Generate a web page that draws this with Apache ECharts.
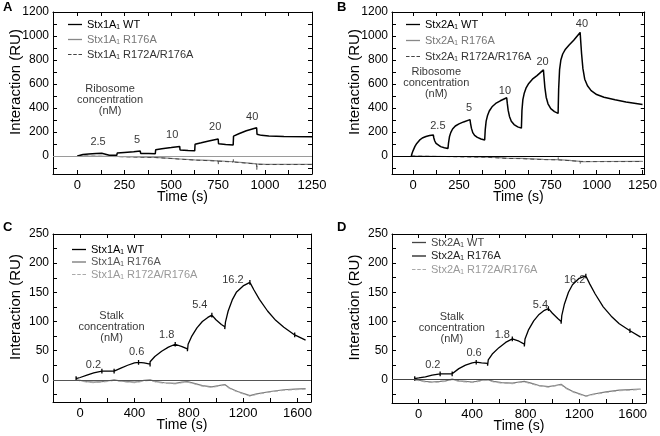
<!DOCTYPE html>
<html>
<head>
<meta charset="utf-8">
<script src="https://cdn.jsdelivr.net/npm/echarts@6/dist/echarts.min.js"></script>
<style>
html, body { margin: 0; background: #fff; }
#chart { width: 660px; height: 436px; }
</style>
</head>
<body>
<div id="chart"></div>
<script>
// ---- data: [time (s), response (RU)] ----
const wtA = [[0,0],[2,10],[30,13],[60,16],[100,20],[130,23],[132,8],[170,7],[210,6],[212,25],[250,30],[300,36],[335,41],[337,21],[380,20],[415,19],[417,52],[450,60],[500,70],[545,80],[547,50],[590,46],[625,43],[627,98],[660,110],[700,125],[750,142],[752,102],[790,96],[830,92],[832,166],[860,185],[900,210],[955,236],[957,182],[980,172],[1020,166],[1100,162],[1250,160]];
const r176A = [[0,0],[130,-2],[210,-4],[300,-7],[415,-12],[480,-18],[545,-25],[625,-33],[700,-37],[750,-40],[830,-48],[900,-58],[955,-66],[1000,-70],[1250,-70]];
const r172A = [[0,0],[130,-3],[210,-5],[300,-8],[415,-13],[480,-19],[545,-26],[546,-40],[547,-27],[625,-34],[750,-42],[751,-70],[752,-43],[830,-50],[831,-30],[832,-50],[955,-67],[956,-115],[957,-69],[1000,-71],[1250,-71]];

const wtB = [[-10,0],[-5,25],[0,45],[10,80],[20,105],[35,132],[50,150],[70,162],[90,170],[110,175],[113,150],[118,125],[125,105],[135,90],[150,78],[170,69],[190,63],[193,110],[198,160],[205,195],[215,225],[230,250],[250,268],[275,284],[310,303],[313,270],[318,230],[325,195],[335,172],[350,155],[370,142],[390,134],[393,220],[398,290],[405,335],[415,375],[430,410],[450,438],[475,460],[510,485],[513,440],[518,380],[525,330],[535,290],[550,262],[570,243],[590,232],[593,380],[598,470],[605,520],[615,565],[630,605],[650,640],[675,670],[710,718],[713,660],[718,570],[725,490],[735,435],[750,395],[770,370],[790,355],[793,560],[798,720],[805,800],[815,850],[830,890],[850,925],[875,965],[910,1030],[913,960],[918,850],[925,730],[935,640],[950,585],[970,545],[1000,512],[1040,490],[1100,468],[1160,450],[1250,430]];
const r176B = [[-10,0],[100,-2],[190,-4],[300,-6],[390,-9],[450,-12],[510,-17],[511,-28],[512,-17],[590,-20],[650,-24],[710,-28],[711,-40],[712,-28],[790,-30],[791,-10],[792,-30],[850,-36],[910,-44],[911,-65],[912,-46],[950,-48],[1000,-46],[1250,-44]];
const r172B = [[-10,0],[100,-3],[190,-5],[300,-8],[390,-10],[510,-20],[590,-22],[710,-30],[790,-32],[910,-45],[1000,-47],[1250,-46]];

const wtC = [[-30,2],[-30,6],[-30,-2],[-30,2],[0,4],[50,8],[100,12],[160,15],[160,19],[160,11],[160,15],[200,15],[250,15],[250,19],[250,11],[250,15],[300,20],[350,25],[400,29],[430,30],[430,34],[430,26],[430,30],[470,29],[515,27],[515,23],[515,31],[550,40],[600,49],[650,56],[700,61],[700,65],[700,57],[700,61],[750,57],[790,53],[790,49],[795,61],[820,74],[860,89],[900,100],[940,107],[970,111],[970,115],[970,107],[970,111],[1000,103],[1040,95],[1065,91],[1065,87],[1070,99],[1090,118],[1120,137],[1150,150],[1200,161],[1250,167],[1250,171],[1250,163],[1250,167],[1280,154],[1320,138],[1380,118],[1440,102],[1500,90],[1580,77],[1580,81],[1580,73],[1580,77],[1660,68]];
const r176C = [[-30,0],[0,-1],[50,-3],[100,-4],[160,-3],[200,-2],[250,0],[300,-2],[350,-3],[400,-4],[430,-3],[470,-1],[515,0],[560,-3],[620,-5],[700,-6],[750,-4],[790,-3],[840,-6],[900,-10],[970,-12],[1020,-10],[1065,-8],[1100,-14],[1160,-20],[1250,-27],[1300,-24],[1400,-20],[1500,-17],[1580,-16],[1660,-15]];
const r172C = [[-30,0],[0,-2],[50,-4],[100,-5],[160,-4],[200,-3],[250,-1],[300,-3],[350,-4],[400,-5],[430,-4],[470,-2],[515,-1],[560,-4],[620,-6],[700,-7],[750,-5],[790,-4],[840,-7],[900,-11],[970,-13],[1020,-11],[1065,-9],[1100,-15],[1160,-21],[1250,-28],[1300,-25],[1400,-21],[1500,-18],[1580,-17],[1660,-16]];

const wtD = [[-30,2],[-30,6],[-30,-2],[-30,2],[0,3],[50,5],[100,8],[160,10],[160,14],[160,6],[160,10],[200,10],[250,10],[250,14],[250,6],[250,10],[300,19],[350,25],[400,29],[430,30],[430,34],[430,26],[430,30],[470,29],[515,28],[515,24],[520,34],[550,44],[600,55],[650,64],[700,70],[700,74],[700,66],[700,70],[750,66],[790,61],[790,57],[795,70],[820,85],[860,101],[900,112],[940,119],[970,122],[970,126],[970,118],[970,122],[1000,114],[1040,105],[1065,100],[1065,96],[1070,110],[1090,130],[1120,150],[1150,163],[1200,174],[1250,178],[1250,182],[1250,174],[1250,178],[1280,164],[1320,147],[1380,125],[1440,109],[1500,96],[1580,84],[1580,88],[1580,80],[1580,84],[1660,73]];
const r176D = [[-30,0],[0,-1],[50,-3],[100,-4],[160,-3],[200,-2],[250,1],[300,-2],[350,-3],[400,-4],[430,-3],[470,-1],[515,0],[560,-3],[620,-5],[700,-6],[750,-4],[790,-3],[840,-6],[900,-10],[970,-12],[1020,-10],[1065,-8],[1100,-14],[1160,-21],[1250,-28],[1300,-25],[1400,-21],[1500,-18],[1580,-17],[1660,-16]];
const r172D = [[-30,0],[0,-2],[50,-4],[100,-5],[160,-4],[200,-3],[250,0],[300,-3],[350,-4],[400,-5],[430,-4],[470,-2],[515,-1],[560,-4],[620,-6],[700,-7],[750,-5],[790,-4],[840,-7],[900,-11],[970,-13],[1020,-11],[1065,-9],[1100,-15],[1160,-22],[1250,-29],[1300,-26],[1400,-22],[1500,-19],[1580,-18],[1660,-17]];

// concentration labels, anchored in data units
const concA = ['2.5', '5', '10', '20', '40'];
const concPosA = [[110,114],[318,130],[505,172],[734,238],[931,329]];
const concB = ['2.5', '5', '10', '20', '40'];
const concPosB = [[135,250],[305,404],[500,545],[705,780],[920,1100]];
const concC = ['0.2', '0.6', '1.8', '5.4', '16.2'];
const concPosC = [[98,26],[416,47],[637,77],[881,129],[1125,172]];
const concD = ['0.2', '0.6', '1.8', '5.4', '16.2'];
const concPosD = [[105,25],[414,46],[625,77],[910,128],[1166,171]];
const noteRibo = 'Ribosome\nconcentration\n(nM)';
const noteStalk = 'Stalk\nconcentration\n(nM)';
const notePos = [[174,470],[126,612],[231,90],[248,89]];

// tick labels
const xLabRibo = [0, 250, 500, 750, 1000, 1250];
const xTickRibo = [0, 125, 250, 375, 500, 625, 750, 875, 1000, 1125, 1250];
const yLabRibo = [0, 200, 400, 600, 800, 1000, 1200];
const yTickRibo = [-100, 0, 100, 200, 300, 400, 500, 600, 700, 800, 900, 1000, 1100, 1200];
const xLabStalk = [0, 400, 800, 1200, 1600];
const xTickStalk = [-200, 0, 200, 400, 600, 800, 1000, 1200, 1400, 1600];
const yLabStalk = [0, 50, 100, 150, 200, 250];
const yTickStalk = [-25, 0, 25, 50, 75, 100, 125, 150, 175, 200, 225, 250];

const names1 = ['Stx1A\u2081 WT', 'Stx1A\u2081 R176A', 'Stx1A\u2081 R172A/R176A'];
const names2 = ['Stx2A\u2081 WT', 'Stx2A\u2081 R176A', 'Stx2A\u2081 R172A/R176A'];

let chart = echarts.init(document.getElementById('chart'));

const grids = [
  { left: 53, top: 12, width: 259, height: 162 },
  { left: 392, top: 12, width: 259, height: 162 },
  { left: 53, top: 234, width: 258, height: 168 },
  { left: 392, top: 234, width: 254, height: 169 }
];

const ranges = [
  { x: [-130, 1250], y: [-150, 1200], xl: xLabRibo, xt: xTickRibo, yl: yLabRibo, yt: yTickRibo },
  { x: [-115, 1262], y: [-150, 1200], xl: xLabRibo, xt: xTickRibo, yl: yLabRibo, yt: yTickRibo },
  { x: [-200, 1700], y: [-38, 250], xl: xLabStalk, xt: xTickStalk, yl: yLabStalk, yt: yTickStalk },
  { x: [-200, 1700], y: [-40, 250], xl: xLabStalk, xt: xTickStalk, yl: yLabStalk, yt: yTickStalk }
];

const plain = function (v) { return String(v); };

let xAxis = [], yAxis = [];
ranges.forEach(function (r, i) {
  const line = { show: true, onZero: false, lineStyle: { color: '#000', width: 1 } };
  xAxis.push({
    type: 'value', gridIndex: i, min: r.x[0], max: r.x[1], position: 'bottom',
    name: 'Time (s)', nameLocation: 'middle', nameGap: 16, nameMoveOverlap: false,
    nameTextStyle: { fontSize: 14, color: '#000' },
    axisLine: line, splitLine: { show: false },
    axisTick: { inside: true, length: 4, customValues: r.xt, lineStyle: { color: '#000' } },
    axisLabel: { customValues: r.xl, formatter: plain, fontSize: 13, color: '#000', margin: 5 }
  });
  xAxis.push({
    type: 'value', gridIndex: i, min: r.x[0], max: r.x[1], position: 'top',
    axisLine: line, splitLine: { show: false },
    axisTick: { inside: true, length: 4, customValues: r.xt, lineStyle: { color: '#000' } },
    axisLabel: { show: false }
  });
  yAxis.push({
    type: 'value', gridIndex: i, min: r.y[0], max: r.y[1], position: 'left',
    name: 'Interaction (RU)', nameLocation: 'middle', nameGap: 30, nameMoveOverlap: false,
    nameTextStyle: { fontSize: 15, color: '#000', padding: [0, 0, 0, 22] },
    axisLine: line, splitLine: { show: false },
    axisTick: { inside: true, length: 4, customValues: r.yt, lineStyle: { color: '#000' } },
    axisLabel: { customValues: r.yl, formatter: plain, fontSize: 12, color: '#000', margin: 4 }
  });
  yAxis.push({
    type: 'value', gridIndex: i, min: r.y[0], max: r.y[1], position: 'right',
    axisLine: line, splitLine: { show: false },
    axisTick: { inside: true, length: 4, customValues: r.yt, lineStyle: { color: '#000' } },
    axisLabel: { show: false }
  });
});

function curve(name, gi, data, color, width, dashed, zeroColor) {
  let s = {
    name: name, type: 'line', xAxisIndex: gi * 2, yAxisIndex: gi * 2,
    data: data, symbol: 'none', showSymbol: false, animation: false,
    lineStyle: { color: color, width: width, type: dashed ? [4, 3] : 'solid' },
    itemStyle: { color: color }
  };
  if (zeroColor) {
    s.markLine = {
      silent: true, symbol: 'none', animation: false,
      label: { show: false },
      lineStyle: { color: zeroColor, width: 1.2, type: 'solid' },
      data: [{ yAxis: 0 }]
    };
  }
  return s;
}

function labels(gi, texts, pos, extra) {
  let d = texts.map(function (t, k) { return { name: t, value: pos[k] }; });
  d.push({ name: extra, value: notePos[gi] });
  return {
    type: 'scatter', xAxisIndex: gi * 2, yAxisIndex: gi * 2,
    symbolSize: 0, silent: true, animation: false, data: d,
    label: { show: true, position: 'inside', formatter: '{b}', fontSize: 11, lineHeight: 11, color: '#000' }
  };
}

const series = [
  curve(names1[1], 0, r176A, '#8a8a8a', 1.2, false, '#9a9a9a'),
  curve(names1[2], 0, r172A, '#444', 1, true),
  curve(names1[0], 0, wtA, '#000', 1.5, false),
  labels(0, concA, concPosA, noteRibo),

  curve(names2[1], 1, r176B, '#8a8a8a', 1.2, false, '#000'),
  curve(names2[2], 1, r172B, '#444', 1, true),
  curve(names2[0], 1, wtB, '#000', 1.5, false),
  labels(1, concB, concPosB, noteRibo),

  curve(names1[1] + ' ', 2, r176C, '#7a7a7a', 1.2, false, '#555'),
  curve(names1[2] + ' ', 2, r172C, '#aaa', 1, true),
  curve(names1[0] + ' ', 2, wtC, '#000', 1.3, false),
  labels(2, concC, concPosC, noteStalk),

  curve(names2[1] + ' ', 3, r176D, '#7a7a7a', 1.2, false, '#444'),
  curve(names2[2] + ' ', 3, r172D, '#aaa', 1, true),
  curve(names2[0] + ' ', 3, wtD, '#000', 1.3, false),
  labels(3, concD, concPosD, noteStalk)
];

// legend keys drawn as plain strokes (solid or dashed)
const solidKey = 'path://M0,0H16V1.5H0Z';
const dashKey = 'path://M0,0H4V1.2H0Z M6,0H10V1.2H6Z M12,0H16V1.2H12Z';

function legendFor(left, top, gap, names, textColors, lineColors, suffix) {
  return {
    left: left, top: top, orient: 'vertical', selectedMode: false, padding: 0,
    itemWidth: 14, itemHeight: 8, itemGap: gap,
    textStyle: { fontSize: 11, lineHeight: 11 },
    data: names.map(function (n, k) {
      return {
        name: n + suffix,
        icon: k === 2 ? dashKey : solidKey,
        textStyle: { color: textColors[k] },
        itemStyle: { color: lineColors[k], borderWidth: 0 }
      };
    })
  };
}

const option = {
  textStyle: { fontFamily: 'Liberation Sans, Arial, sans-serif' },
  title: [
    { text: 'A', left: 3, top: 1 },
    { text: 'B', left: 337, top: 1 },
    { text: 'C', left: 3, top: 221 },
    { text: 'D', left: 337, top: 221 }
  ].map(function (t) {
    t.textStyle = { fontSize: 13, fontWeight: 'bold', color: '#000' };
    t.padding = 0;
    return t;
  }),
  grid: grids,
  xAxis: xAxis,
  yAxis: yAxis,
  legend: [
    legendFor(68, 19, 4, names1, ['#000', '#777', '#333'], ['#000', '#888', '#444'], ''),
    legendFor(406, 19, 5, names2, ['#000', '#777', '#333'], ['#000', '#888', '#444'], ''),
    legendFor(72, 244, 1.5, names1, ['#000', '#555', '#999'], ['#000', '#777', '#aaa'], ' '),
    legendFor(412, 237, 2.5, names2, ['#444', '#222', '#999'], ['#444', '#222', '#aaa'], ' ')
  ],
  series: series
};

chart.setOption(option);
</script>
</body>
</html>
